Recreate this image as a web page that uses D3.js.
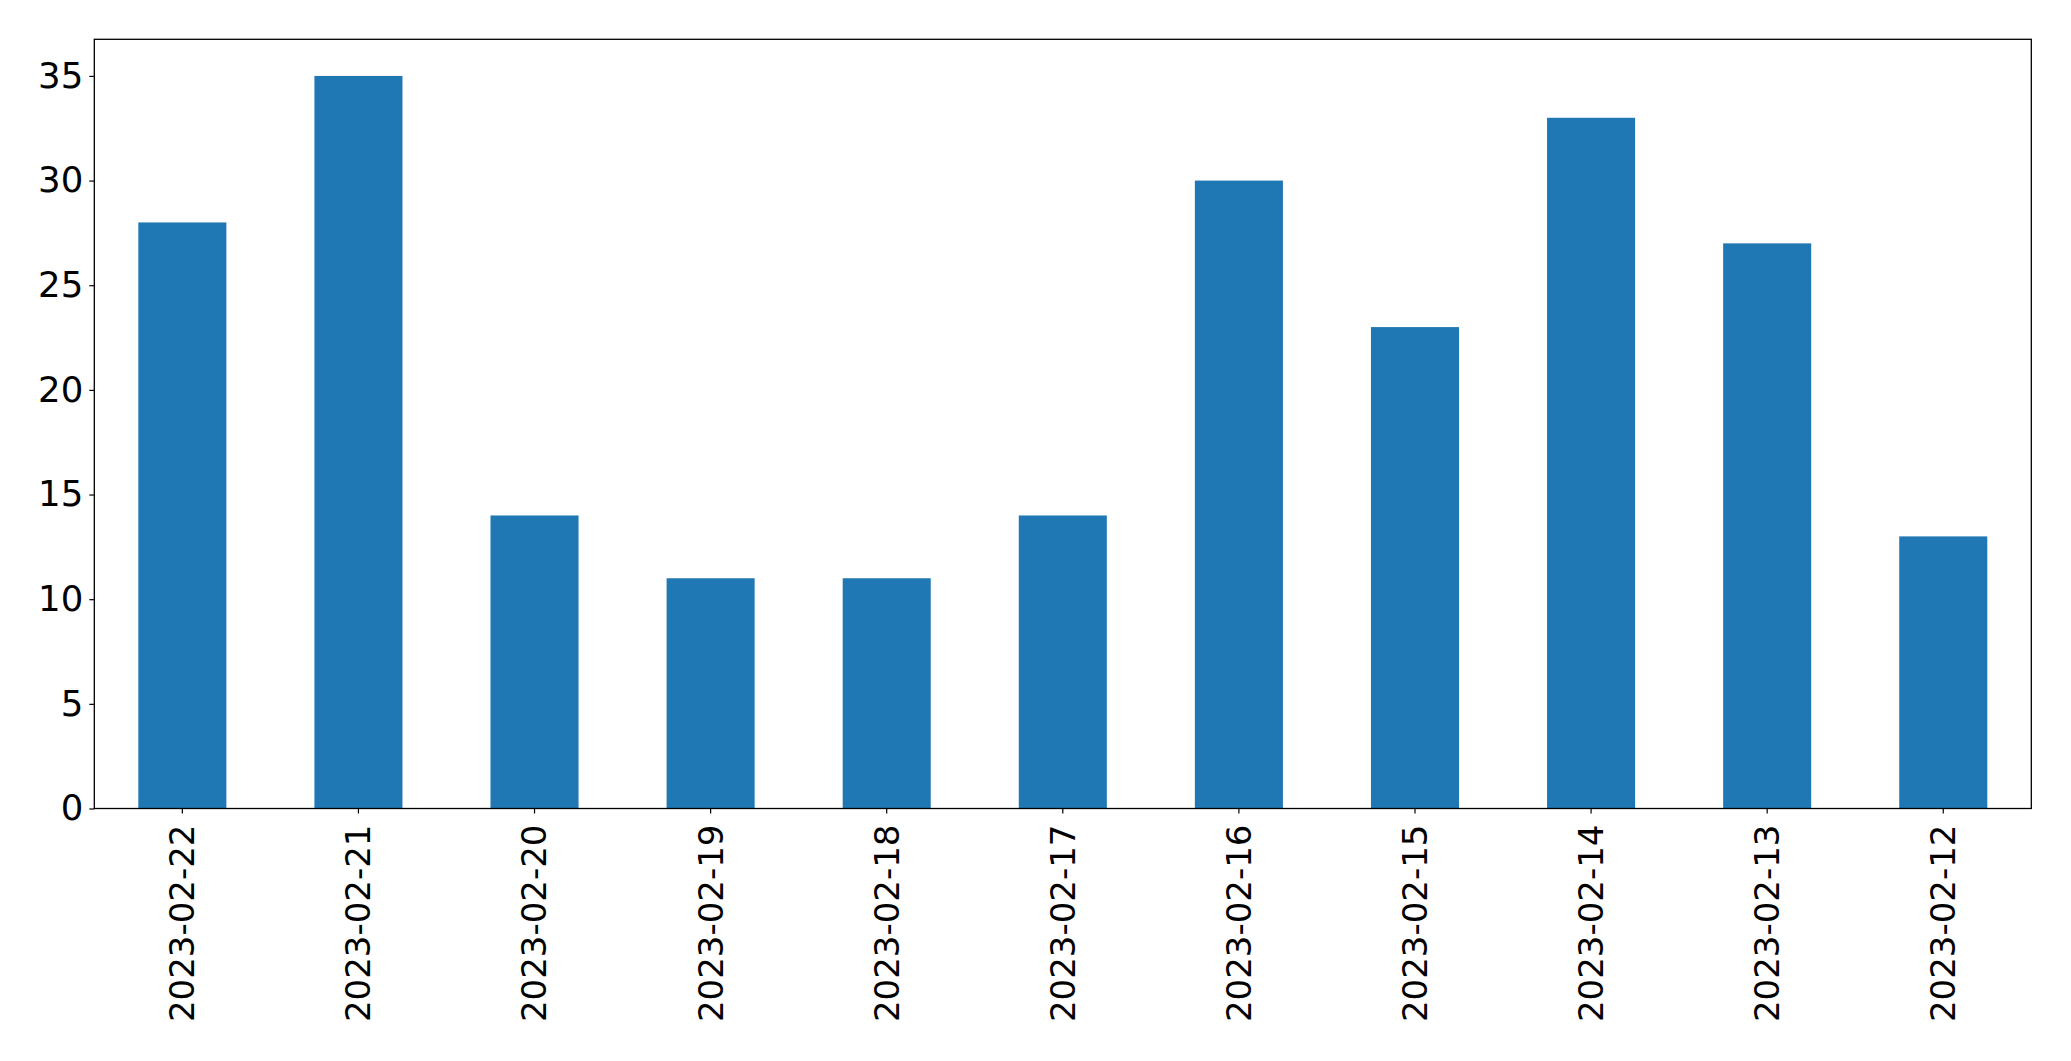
<!DOCTYPE html>
<html>
<head>
<meta charset="utf-8">
<script src="https://cdn.jsdelivr.net/npm/d3@7"></script>
<style>
html, body { margin: 0; padding: 0; background: #fff; }
svg { display: block; }
text { font-family: "DejaVu Sans", sans-serif; fill: #000; }
</style>
</head>
<body>
<script>
const categories = ["2023-02-22","2023-02-21","2023-02-20","2023-02-19","2023-02-18","2023-02-17","2023-02-16","2023-02-15","2023-02-14","2023-02-13","2023-02-12"];
const values = [28, 35, 14, 11, 11, 14, 30, 23, 33, 27, 13];
const yTicks = [0, 5, 10, 15, 20, 25, 30, 35];

const W = 2071, H = 1061;
const m = { left: 94.3, right: 2031.3, top: 39.3, bottom: 808.5 };

const svg = d3.select("body").append("svg").attr("width", W).attr("height", H);

const x = d3.scaleBand().domain(categories).range([m.left, m.right]).paddingInner(0.5).paddingOuter(0.25);
const y = d3.scaleLinear().domain([0, 36.75]).range([m.bottom, m.top]);

svg.append("g").selectAll("rect").data(values).join("rect")
  .attr("x", (d, i) => x(categories[i]))
  .attr("width", x.bandwidth())
  .attr("y", d => y(d))
  .attr("height", d => y(0) - y(d))
  .attr("fill", "#1f77b4");

const yAxis = svg.append("g").attr("transform", `translate(${m.left},0)`)
  .call(d3.axisLeft(y).tickValues(yTicks).tickSize(5).tickPadding(6).tickFormat(d3.format("d")));
yAxis.select(".domain").remove();
yAxis.selectAll("line").attr("stroke", "#000").attr("stroke-width", 1.2);
yAxis.selectAll("text").attr("font-size", 35.5).attr("font-family", "DejaVu Sans").attr("fill", "#000");

const xAxis = svg.append("g").attr("transform", `translate(0,${m.bottom})`)
  .call(d3.axisBottom(x).tickSize(5).tickPadding(0));
xAxis.select(".domain").remove();
xAxis.selectAll("line").attr("stroke", "#000").attr("stroke-width", 1.2);
xAxis.selectAll("text")
  .attr("font-size", 34).attr("font-family", "DejaVu Sans").attr("fill", "#000")
  .attr("transform", "rotate(-90)")
  .attr("text-anchor", "end")
  .attr("x", -16).attr("y", 0).attr("dy", "0.35em");

svg.append("rect")
  .attr("x", m.left).attr("y", m.top)
  .attr("width", m.right - m.left).attr("height", m.bottom - m.top)
  .attr("fill", "none").attr("stroke", "#000").attr("stroke-width", 1.3);
</script>
</body>
</html>
